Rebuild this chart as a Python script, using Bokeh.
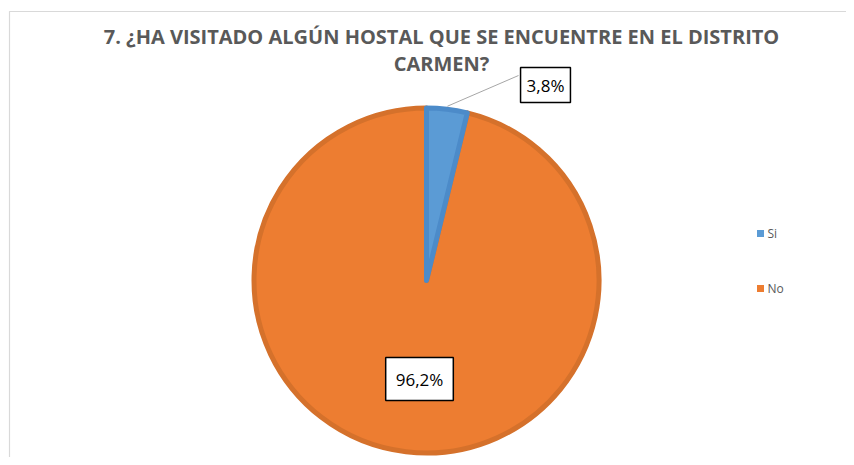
import numpy as np
from bokeh.plotting import figure
from bokeh.models import Range1d
from bokeh.core.properties import value
from bokeh.embed import file_html
from bokeh.resources import INLINE

# ---- data ----
categories = ["Si", "No"]
percent = [3.8, 96.2]
labels = ["3,8%", "96,2%"]
fill_colors = ["#5B9BD5", "#ED7D31"]
edge_colors = ["#4C8BC9", "#D5712B"]
title_lines = ["7. ¿HA VISITADO ALGÚN HOSTAL QUE SE ENCUENTRE EN EL DISTRITO", "CARMEN?"]

W, H = 846, 457
p = figure(width=W, height=H, output_backend="svg", toolbar_location=None,
           x_range=Range1d(0, W), y_range=Range1d(0, H), min_border=0,
           outline_line_color=None)
p.axis.visible = False
p.grid.visible = False
p.background_fill_color = "white"
p.border_fill_color = "white"

# chart border
p.quad(left=[9], right=[W + 10], bottom=[-10], top=[446], fill_color=None,
       line_color="#D9D9D9", line_width=1.2)

# pie
cx, cy, R = 426, 177, 172.5
frac = np.array(percent) / sum(percent)
ang = frac * 2 * np.pi
ends = np.pi / 2 - np.concatenate([[0], np.cumsum(ang)[:-1]])
starts = ends - ang
mids = (starts + ends) / 2

order = [1, 0]
for i in order:
    p.wedge(x=[cx], y=[cy], radius=R, start_angle=[starts[i]], end_angle=[ends[i]],
            fill_color=fill_colors[i], line_color=edge_colors[i], line_width=5,
            line_join="round")

# leader line for small slice
lab_si = (545, 372.5)
lx0 = cx + (R + 3) * np.cos(mids[0])
ly0 = cy + (R + 3) * np.sin(mids[0])
p.segment(x0=[lx0], y0=[ly0], x1=[lab_si[0] - 27], y1=[lab_si[1] + 9.5],
          line_color="#A6A6A6", line_width=1)

# data labels
lab_no = (419, 78.5)
for (x, y), t, pad in zip([lab_si, lab_no], labels, [6, 10]):
    p.text(x=[x], y=[y], text=[t], text_font=value("Open Sans"), text_font_size="17px",
           text_color="black", text_align="center", text_baseline="middle",
           background_fill_color="white", border_line_color="black", border_line_width=1.5,
           padding=pad)

# title
for k, t in enumerate(title_lines):
    p.text(x=[441], y=[421 - 27 * k], text=[t], text_font=value("Open Sans"),
           text_font_size="20px", text_font_style="bold", text_color="#595959",
           text_align="center", text_baseline="alphabetic")

# legend
leg_y = [224, 169]
p.scatter(x=[760, 760], y=leg_y, marker="square", size=7, fill_color=fill_colors,
          line_color=None)
p.text(x=[767, 767], y=leg_y, text=categories, text_font=value("Open Sans"),
       text_font_size="12px", text_color="#595959", text_baseline="middle")

open("out.html", "w").write(file_html(p, INLINE))
